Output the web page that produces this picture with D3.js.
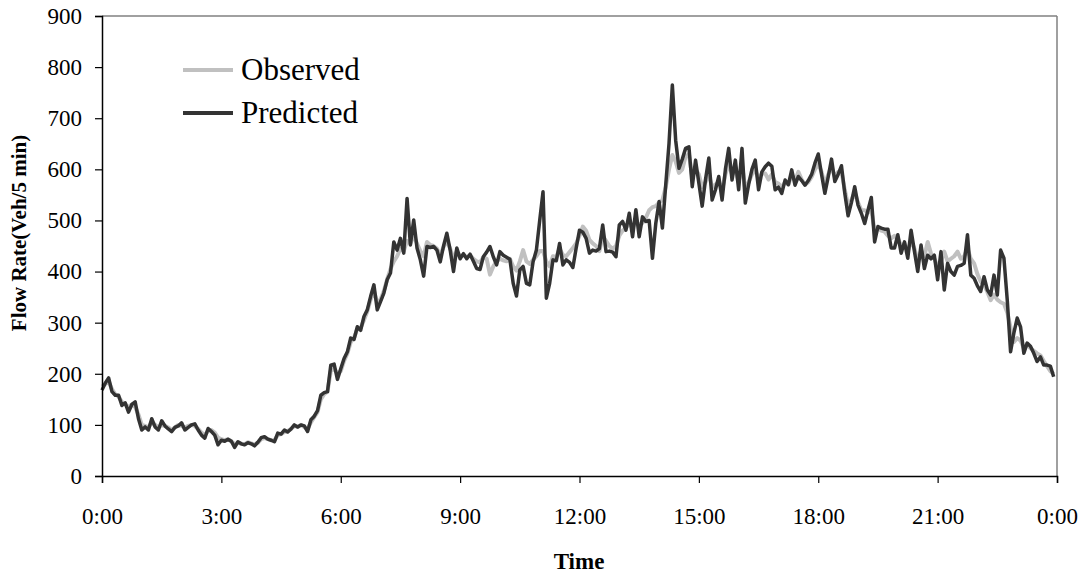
<!DOCTYPE html>
<html>
<head>
<meta charset="utf-8">
<script src="https://cdn.jsdelivr.net/npm/d3@7"></script>
<style>
  body { margin: 0; background: #fff; }
  svg { display: block; font-family: "Liberation Serif", "Times New Roman", serif; }
</style>
</head>
<body>
<svg class="svg-chart" width="1090" height="580"></svg>
<script>
// 5 minute flow rates, 288 intervals over one day
var observed = [
  175, 180, 185, 170, 160, 155, 145, 140, 135, 140, 135, 120,
  100, 98, 95, 105, 100, 95, 100, 98, 95, 90, 95, 100,
  98, 95, 98, 100, 98, 92, 85, 80, 88, 90, 85, 75,
  72, 70, 72, 68, 62, 65, 63, 62, 66, 64, 62, 65,
  72, 74, 72, 70, 70, 80, 82, 86, 88, 92, 98, 96,
  100, 96, 92, 105, 115, 125, 150, 160, 165, 205, 210, 200,
  205, 225, 240, 262, 270, 288, 290, 305, 322, 345, 362, 340,
  345, 362, 385, 405, 420, 430, 445, 440, 460, 455, 470, 455,
  440, 430, 458, 452, 450, 445, 432, 448, 460, 445, 425, 440,
  430, 432, 428, 432, 425, 420, 418, 428, 425, 394, 410, 420,
  425, 422, 420, 425, 410, 402, 420, 442, 420, 415, 423, 430,
  440, 440, 420, 410, 430, 428, 445, 432, 430, 438, 446, 455,
  470, 488, 480, 462, 455, 450, 440, 470, 460, 450, 445, 450,
  470, 480, 485, 495, 485, 500, 490, 495, 505, 520, 526, 528,
  535, 540, 565, 600, 628, 615, 593, 600, 625, 630, 585, 600,
  590, 565, 575, 590, 565, 570, 575, 560, 590, 610, 590, 600,
  575, 610, 560, 575, 590, 600, 580, 592, 592, 580, 590, 575,
  572, 565, 575, 570, 590, 578, 595, 580, 570, 575, 585, 600,
  610, 595, 570, 590, 605, 585, 595, 595, 560, 530, 540, 555,
  535, 520, 520, 515, 520, 480, 485, 480, 478, 470, 465, 470,
  465, 450, 455, 440, 460, 445, 420, 440, 430, 458, 435, 425,
  410, 420, 439, 420, 425, 430, 439, 425, 430, 445, 425, 416,
  395, 380, 375, 360, 344, 355, 345, 340, 337, 320, 290, 262,
  270, 265, 250, 258, 250, 245, 240, 236, 225, 215, 205, 200
];

var predicted = [
  168, 182, 192, 165, 158, 158, 138, 143, 125, 140, 145, 112,
  90, 96, 90, 112, 96, 90, 108, 98, 92, 87, 95, 98,
  104, 90, 95, 100, 102, 90, 80, 74, 93, 87, 80, 61,
  70, 68, 72, 68, 56, 67, 63, 61, 65, 63, 59, 66,
  75, 77, 72, 70, 67, 84, 82, 90, 86, 92, 100, 96,
  100, 98, 87, 110, 117, 128, 158, 163, 165, 217, 219, 189,
  210, 230, 243, 270, 267, 292, 285, 312, 325, 351, 374, 325,
  341, 358, 384, 397, 458, 442, 465, 436, 543, 452, 501, 446,
  423, 391, 449, 447, 449, 442, 419, 450, 475, 442, 400, 446,
  425, 435, 425, 434, 420, 406, 404, 429, 438, 449, 429, 413,
  439, 432, 428, 424, 377, 352, 403, 410, 377, 374, 419, 442,
  500, 556, 348, 377, 423, 421, 455, 413, 423, 418, 408, 446,
  481, 477, 465, 436, 442, 440, 445, 491, 439, 440, 438, 429,
  491, 498, 481, 514, 468, 521, 468, 507, 498, 500, 426, 494,
  537, 485, 569, 651, 765, 657, 602, 620, 641, 644, 566, 618,
  573, 528, 580, 622, 540, 560, 586, 540, 600, 641, 579, 618,
  560, 641, 534, 570, 600, 618, 560, 595, 605, 612, 606, 560,
  565, 553, 579, 570, 599, 569, 586, 578, 569, 578, 590, 612,
  630, 590, 553, 585, 620, 576, 590, 607, 553, 509, 535, 566,
  530, 514, 494, 520, 545, 458, 488, 485, 483, 483, 446, 446,
  472, 436, 458, 426, 481, 440, 400, 452, 406, 432, 425, 432,
  384, 439, 364, 416, 400, 393, 410, 412, 416, 472, 393, 387,
  372, 361, 390, 364, 354, 393, 354, 442, 426, 344, 243, 280,
  309, 292, 240, 260, 254, 240, 224, 233, 217, 217, 215, 194
];

var timeTicks = [0, 36, 72, 108, 144, 180, 216, 252, 288];
var timeLabels = ["0:00", "3:00", "6:00", "9:00", "12:00", "15:00", "18:00", "21:00", "0:00"];
var flowTicks = [0, 100, 200, 300, 400, 500, 600, 700, 800, 900];

var margin = {top: 16, right: 33, bottom: 104, left: 102},
    width = 1090 - margin.left - margin.right,
    height = 580 - margin.top - margin.bottom;

var svg = d3.select(".svg-chart");

var chart = svg.append("g")
    .attr("transform", "translate(" + margin.left + "," + margin.top + ")");

var x = d3.scaleLinear()
    .domain([0, 288])
    .range([0, width]);

var y = d3.scaleLinear()
    .domain([0, 900])
    .range([height, 0]);

// frame on top and right
chart.append("line")
    .attr("x1", 0).attr("x2", width)
    .attr("y1", 0).attr("y2", 0)
    .style("stroke", "#808080")
    .style("stroke-width", 1.5);
chart.append("line")
    .attr("x1", width).attr("x2", width)
    .attr("y1", 0).attr("y2", height)
    .style("stroke", "#808080")
    .style("stroke-width", 1.5);

var line = d3.line()
    .x(function(d, i) { return x(i); })
    .y(function(d) { return y(d); });

chart.append("path")
    .datum(observed)
    .attr("d", line)
    .style("fill", "none")
    .style("stroke", "#c0c0c0")
    .style("stroke-width", 4)
    .style("stroke-linejoin", "round");

chart.append("path")
    .datum(predicted)
    .attr("d", line)
    .style("fill", "none")
    .style("stroke", "#333333")
    .style("stroke-width", 3.5)
    .style("stroke-linejoin", "round");

//add axes
var yAxis = d3.axisLeft(y)
    .tickValues(flowTicks)
    .tickSize(7)
    .tickPadding(13);

var yGuide = chart.append("g").call(yAxis);
yGuide.attr("font-family", null);
yGuide.select(".domain").style("stroke", "#000").style("stroke-width", 1.5);
yGuide.selectAll("line").style("stroke", "#000").style("stroke-width", 1.2);
yGuide.selectAll("text")
    .style("font-family", "'Liberation Serif', serif")
    .style("font-size", "23px")
    .style("fill", "#000");

var xAxis = d3.axisBottom(x)
    .tickValues(timeTicks)
    .tickFormat(function(d, i) { return timeLabels[i]; })
    .tickSize(7)
    .tickPadding(25);

var xGuide = chart.append("g")
    .attr("transform", "translate(0," + height + ")")
    .call(xAxis);
xGuide.attr("font-family", null);
xGuide.select(".domain").style("stroke", "#000").style("stroke-width", 1.5);
xGuide.selectAll("line").style("stroke", "#000").style("stroke-width", 1.2);
xGuide.selectAll("text")
    .style("font-family", "'Liberation Serif', serif")
    .style("font-size", "23px")
    .style("fill", "#000");

// axis titles
svg.append("text")
    .attr("transform", "translate(26,233) rotate(-90)")
    .attr("text-anchor", "middle")
    .style("font-weight", "bold")
    .style("font-size", "21px")
    .text("Flow Rate(Veh/5 min)");

svg.append("text")
    .attr("x", 579)
    .attr("y", 569)
    .attr("text-anchor", "middle")
    .style("font-weight", "bold")
    .style("font-size", "23px")
    .text("Time");

// legend
var legendItems = [
  {name: "Observed", color: "#c0c0c0", y: 70},
  {name: "Predicted", color: "#333333", y: 113}
];

var legend = svg.selectAll(".legend")
    .data(legendItems)
    .enter().append("g")
    .attr("class", "legend")
    .attr("transform", function(d) { return "translate(183," + d.y + ")"; });

legend.append("line")
    .attr("x1", 0).attr("x2", 50)
    .attr("y1", 0).attr("y2", 0)
    .style("stroke", function(d) { return d.color; })
    .style("stroke-width", 4);

legend.append("text")
    .attr("x", 58)
    .attr("y", 10)
    .style("font-size", "31px")
    .text(function(d) { return d.name; });
</script>
</body>
</html>
